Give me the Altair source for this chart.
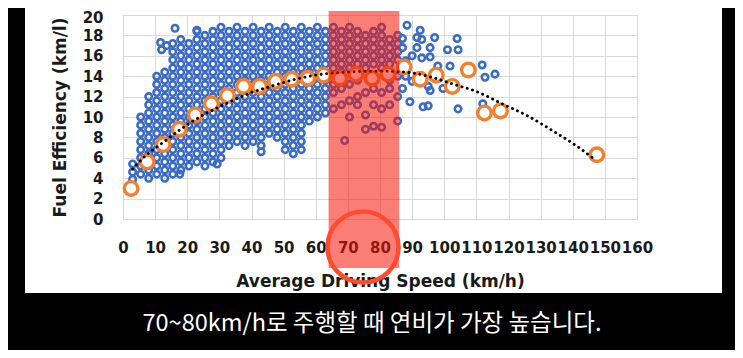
import altair as alt
import pandas as pd

# ---------------- data ----------------
# orange hollow markers: average fuel efficiency per 5 km/h speed bin
avg_speed = [2.5, 7.5, 12.5, 17.5, 22.5, 27.5, 32.5, 37.5, 42.5, 47.5, 52.5, 57.5,
             62.5, 67.5, 72.5, 77.5, 82.5, 87.5, 92.5, 97.5, 102.5, 107.5, 112.5,
             117.5, 147.5]
avg_eff = [3.0, 5.6, 7.3, 8.8, 10.2, 11.3, 12.1, 13.0, 13.0, 13.5, 13.7, 13.8,
           14.1, 13.8, 14.2, 13.8, 14.2, 14.9, 13.7, 14.1, 13.0, 14.6, 10.4,
           10.6, 6.3]

# dotted trend line
trend_x = [3, 7, 12, 18, 25, 32, 40, 47, 55, 62, 70, 80, 88, 96, 103, 110, 118, 126, 134, 141, 147]
trend_y = [4.9, 6.2, 7.4, 8.8, 10.2, 11.3, 12.4, 13.1, 13.8, 14.2, 14.4, 14.5, 14.4, 13.9,
           13.2, 12.5, 11.3, 10.1, 8.6, 7.2, 5.8]

# blue trip cloud, read column by column
blue_col_x = [3, 5.5, 8, 10.5, 13, 15.5, 18, 20.5, 23, 25.5, 28, 30.5, 33, 35.5, 38,
              40.5, 43, 45.5, 48, 50.5, 53, 55.5, 58, 60.5, 63,
              65.5, 68, 70.5, 73, 75.5, 78, 80.5, 83, 85.5]
blue_col_y = [
    [3.9, 4.6, 5.4],
    [4.4, 5.2, 6.0, 6.8, 7.6, 8.4, 9.2, 10.0],
    [4.0, 4.8, 5.6, 6.4, 7.2, 8.0, 8.8, 9.6, 10.4, 11.2, 12.0],
    [4.4, 5.2, 6.0, 6.8, 7.6, 8.4, 9.2, 10.0, 10.8, 11.6, 12.4, 13.2, 14.0],
    [4.0, 4.8, 5.6, 6.4, 7.2, 8.0, 8.8, 9.6, 10.4, 11.2, 12.0, 12.8, 13.6, 14.4],
    [4.4, 5.2, 6.0, 6.8, 7.6, 8.4, 9.2, 10.0, 10.8, 11.6, 12.4, 13.2, 14.0, 14.8, 15.6, 16.4, 17.2],
    [4.8, 5.6, 6.4, 7.2, 8.0, 8.8, 9.6, 10.4, 11.2, 12.0, 12.8, 13.6, 14.4, 15.2, 16.0, 16.8, 17.6],
    [5.2, 6.0, 6.8, 7.6, 8.4, 9.2, 10.0, 10.8, 11.6, 12.4, 13.2, 14.0, 14.8, 15.6, 16.4, 17.2],
    [5.6, 6.4, 7.2, 8.0, 8.8, 9.6, 10.4, 11.2, 12.0, 12.8, 13.6, 14.4, 15.2, 16.0, 16.8, 17.6, 18.4],
    [5.2, 6.0, 6.8, 7.6, 8.4, 9.2, 10.0, 10.8, 11.6, 12.4, 13.2, 14.0, 14.8, 15.6, 16.4, 17.2, 18.0],
    [5.6, 6.4, 7.2, 8.0, 8.8, 9.6, 10.4, 11.2, 12.0, 12.8, 13.6, 14.4, 15.2, 16.0, 16.8, 17.6, 18.4],
    [6.0, 6.8, 7.6, 8.4, 9.2, 10.0, 10.8, 11.6, 12.4, 13.2, 14.0, 14.8, 15.6, 16.4, 17.2, 18.0, 18.8],
    [7.2, 8.0, 8.8, 9.6, 10.4, 11.2, 12.0, 12.8, 13.6, 14.4, 15.2, 16.0, 16.8, 17.6, 18.4],
    [7.6, 8.4, 9.2, 10.0, 10.8, 11.6, 12.4, 13.2, 14.0, 14.8, 15.6, 16.4, 17.2, 18.0, 18.8],
    [7.2, 8.0, 8.8, 9.6, 10.4, 11.2, 12.0, 12.8, 13.6, 14.4, 15.2, 16.0, 16.8, 17.6, 18.4],
    [7.6, 8.4, 9.2, 10.0, 10.8, 11.6, 12.4, 13.2, 14.0, 14.8, 15.6, 16.4, 17.2, 18.0, 18.8],
    [6.6, 7.2, 8.0, 8.8, 9.6, 10.4, 11.2, 12.0, 12.8, 13.6, 14.4, 15.2, 16.0, 16.8, 17.6, 18.4],
    [8.4, 9.2, 10.0, 10.8, 11.6, 12.4, 13.2, 14.0, 14.8, 15.6, 16.4, 17.2, 18.0, 18.8],
    [8.0, 8.8, 9.6, 10.4, 11.2, 12.0, 12.8, 13.6, 14.4, 15.2, 16.0, 16.8, 17.6, 18.4],
    [6.8, 7.6, 8.4, 9.2, 10.0, 10.8, 11.6, 12.4, 13.2, 14.0, 14.8, 15.6, 16.4, 17.2, 18.0, 18.8],
    [6.4, 7.2, 8.0, 8.8, 9.6, 10.4, 11.2, 12.0, 12.8, 13.6, 14.4, 15.2, 16.0, 16.8, 17.6, 18.4],
    [6.8, 7.6, 8.4, 9.2, 10.0, 10.8, 11.6, 12.4, 13.2, 14.0, 14.8, 15.6, 16.4, 17.2, 18.0, 18.8],
    [9.6, 10.4, 11.2, 12.0, 12.8, 13.6, 14.4, 15.2, 16.0, 16.8, 17.6, 18.4],
    [10.0, 10.8, 11.6, 12.4, 13.2, 14.0, 14.8, 15.6, 16.4, 17.2, 18.0, 18.8],
    [10.4, 11.2, 12.0, 12.8, 13.6, 14.4, 15.2, 16.0, 16.8, 17.6, 18.4],
    [10.8, 12.4, 13.2, 14.8, 15.6, 16.4, 17.2, 18.0, 18.8],
    [11.2, 12.8, 14.4, 15.2, 16.0, 16.8, 17.6, 18.4],
    [10.0, 11.6, 13.2, 14.8, 15.6, 16.4, 17.2, 18.0, 18.8],
    [11.2, 12.0, 13.6, 15.2, 16.0, 16.8, 17.6, 18.4],
    [8.8, 10.2, 12.4, 14.8, 15.6, 16.4, 17.2, 18.0],
    [9.1, 11.2, 12.8, 13.6, 15.2, 16.0, 16.8, 17.6, 18.4],
    [9.0, 10.8, 12.4, 14.8, 15.6, 16.4, 17.2, 18.0, 18.8],
    [11.2, 12.8, 13.6, 15.2, 16.0, 16.8, 17.6],
    [9.6, 12.0, 14.0, 15.6, 16.4, 17.2, 18.0],
]
# isolated blue points
blue_extra_x = [11.7, 13.6, 12.0, 16.2, 23.0, 17.7, 29.3, 69.0,
                88.4, 92.5, 87.0, 91.5, 93.0, 104.0, 101.0, 104.3, 87.0, 91.5, 95.6,
                93.0, 95.6, 101.8, 98.0, 111.8, 115.8, 112.7, 87.0, 95.6, 99.6, 89.3,
                93.4, 95.0, 104.3, 112.0, 88.0, 90.0, 88.0, 90.0, 97.0, 95.0]
blue_extra_y = [17.3, 17.0, 16.6, 18.7, 18.5, 4.4, 5.4, 7.7,
                19.0, 18.5, 17.7, 17.8, 17.6, 17.7, 16.6, 16.6, 16.8, 16.8, 16.8,
                15.8, 15.9, 15.0, 15.0, 15.1, 14.2, 13.9, 12.8, 12.6, 12.8, 11.5,
                11.0, 11.1, 10.8, 11.3, 14.0, 13.5, 15.5, 16.0, 17.8, 13.0]

x_ticks = list(range(0, 161, 10))
y_ticks = list(range(0, 21, 2))
highlight_start = [64]
highlight_end = [86]
subtitle = "70~80km/h로 주행할 때 연비가 가장 높습니다."

# ---------------- tables ----------------
bx, by = [], []
for cx, ys in zip(blue_col_x, blue_col_y):
    for v in ys:
        bx.append(cx)
        by.append(v)
bx += blue_extra_x
by += blue_extra_y
blue_df = pd.DataFrame({"speed": bx, "eff": by})
avg_df = pd.DataFrame({"speed": avg_speed, "eff": avg_eff})
trend_df = pd.DataFrame({"speed": trend_x, "eff": trend_y})
band_df = pd.DataFrame({"start": highlight_start, "end": highlight_end})
one = pd.DataFrame({"k": [0]})

FONT = "DejaVu Sans"
GRID = "#D9D9D9"
xs = alt.Scale(domain=[0, 160], nice=False, zero=False)
ys = alt.Scale(domain=[0, 20], nice=False)

x_axis = alt.Axis(values=x_ticks, grid=True, gridColor=GRID, domain=False, ticks=False, tickSize=0,
                  labelFont=FONT, labelFontSize=15, labelFontWeight="bold", labelColor="#1a1a1a",
                  labelPadding=28, labelBaseline="middle", labelOverlap=False, labelFlush=False,
                  title="Average Driving Speed (km/h)", titleFont=FONT, titleFontSize=17,
                  titleFontWeight="bold", titleColor="#1a1a1a", titleY=62, titleBaseline="middle")
y_axis = alt.Axis(values=y_ticks, grid=True, gridColor=GRID, domain=False, ticks=False, tickSize=0,
                  labelFont=FONT, labelFontSize=15, labelFontWeight="bold", labelColor="#1a1a1a",
                  labelPadding=20, labelOverlap=False, labelFlush=False, labelBaseline="middle",
                  labelOffset={"condition": {"test": "datum.value == 20", "value": 2},
                               "value": 0},
                  title="Fuel Efficiency (km/l)", titleFont=FONT, titleFontSize=17,
                  titleFontWeight="bold", titleColor="#1a1a1a", titleX=-63, titleY=102,
                  titleAngle=-90, titleAlign="center", titleBaseline="middle")

X = alt.X("speed:Q", scale=xs, axis=x_axis)
Y = alt.Y("eff:Q", scale=ys, axis=y_axis)


def frame(x, x2, y, y2):
    return alt.Chart(one).mark_rect(color="black").encode(
        x=alt.value(x), x2=alt.value(x2), y=alt.value(y), y2=alt.value(y2))


blue = alt.Chart(blue_df).mark_point(shape="circle", filled=False, color="#3A6CC6",
                                     strokeWidth=2.6, size=42, opacity=1).encode(x=X, y=Y)

orange = alt.Chart(avg_df).mark_point(shape="circle", filled=False, stroke="#F2802E", fill="white",
                                      fillOpacity=1, strokeWidth=3.4, size=185, opacity=1).encode(
    x=X, y=Y)

trend = alt.Chart(trend_df).mark_line(color="black", strokeWidth=2.9, strokeCap="round",
                                      strokeDash=[0.1, 5.4], interpolate="monotone").encode(
    x=X, y=Y)

band = alt.Chart(band_df).mark_rect(color="#F51405", opacity=0.55).encode(
    x=alt.X("start:Q", scale=xs, axis=x_axis), x2="end:Q", y=alt.value(-4), y2=alt.value(253))

ring = alt.Chart(one).mark_point(shape="circle", filled=False, stroke="#FF4B2E", strokeWidth=4.5,
                                 size=5041, opacity=1).encode(x=alt.value(240), y=alt.value(232))

caption = alt.Chart(one).mark_text(text=subtitle, color="white", font="Noto Sans CJK KR",
                                   fontSize=23.5, align="center", baseline="middle").encode(
    x=alt.value(249), y=alt.value(309))

chart = alt.layer(
    blue, orange, trend, band, ring,
    frame(-200, -98, -50, 400), frame(599, 800, -50, 400), frame(-200, 800, 278, 400),
    caption,
).properties(
    width=514, height=204, background="white",
    padding={"left": 115, "top": 7, "right": 98, "bottom": 131},
    autosize=alt.AutoSizeParams(type="none"),
).configure_view(stroke=GRID, strokeWidth=1)

chart.save("out.html", embed_options={"renderer": "svg", "actions": False})
